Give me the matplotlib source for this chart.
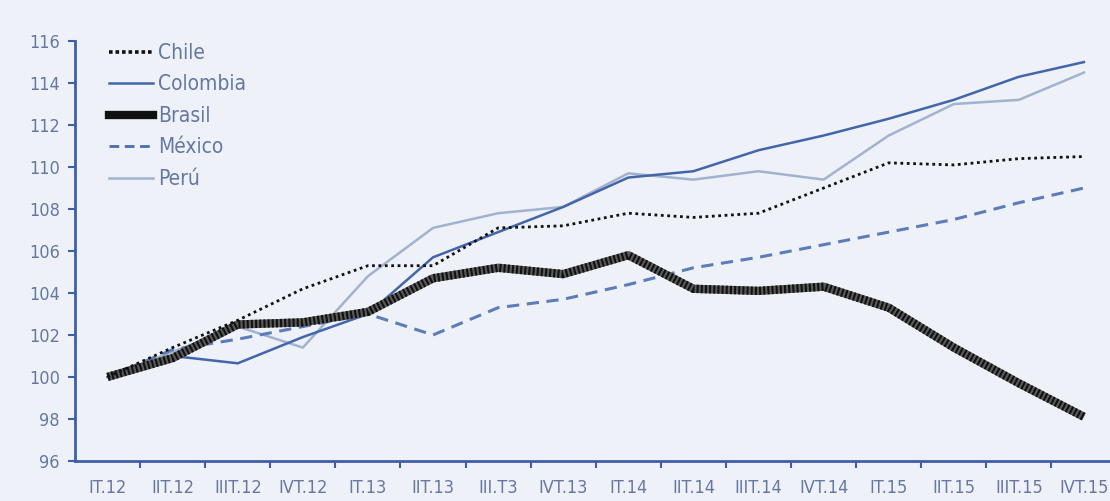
import numpy as np
import matplotlib.pyplot as plt
from matplotlib.lines import Line2D

# Trimestres
trimestres = ['IT.12', 'IIT.12', 'IIIT.12', 'IVT.12', 'IT.13', 'IIT.13', 'III.T3', 'IVT.13',
              'IT.14', 'IIT.14', 'IIIT.14', 'IVT.14', 'IT.15', 'IIT.15', 'IIIT.15', 'IVT.15']

# Índices (IT.12 = 100)
chile    = [100.0, 101.4, 102.7, 104.2, 105.3, 105.3, 107.1, 107.2, 107.8, 107.6, 107.8, 109.0, 110.2, 110.1, 110.4, 110.5]
colombia = [100.0, 101.0, 100.65, 101.9, 103.0, 105.7, 106.9, 108.1, 109.5, 109.8, 110.8, 111.5, 112.3, 113.2, 114.3, 115.0]
brasil   = [100.0, 100.9, 102.5, 102.6, 103.1, 104.7, 105.2, 104.9, 105.8, 104.2, 104.1, 104.3, 103.3, 101.4, 99.7, 98.1]
mexico   = [100.0, 101.3, 101.8, 102.4, 103.0, 102.0, 103.3, 103.7, 104.4, 105.2, 105.7, 106.3, 106.9, 107.5, 108.3, 109.0]
peru     = [100.0, 101.2, 102.4, 101.4, 104.8, 107.1, 107.8, 108.1, 109.7, 109.4, 109.8, 109.4, 111.5, 113.0, 113.2, 114.5]

fondo = '#eef2f8'
azul_eje = '#3e5fa6'
texto = '#6677a0'

plt.rcParams['font.family'] = ['DejaVu Sans']
plt.rcParams['font.stretch'] = 'condensed'

fig = plt.figure(figsize=(11.1, 5.01), dpi=100, facecolor=fondo)
ax = fig.add_axes([0.0676, 0.08, 0.9324, 0.838], facecolor=fondo)

x = np.arange(len(trimestres))

ax.plot(x, colombia, color='#4366ab', lw=1.8, zorder=3)
ax.plot(x, peru, color='#a3b2cf', lw=1.8, zorder=2)
ax.plot(x, mexico, color='#5c7db8', lw=2.2, ls=(0, (4, 2.5)), zorder=3)
# Brasil: trazo grueso con rayado
ax.plot(x, brasil, color='#5a5a5a', lw=6, solid_capstyle='butt', zorder=4)
ax.plot(x, brasil, color='#111111', lw=6, ls=(0, (0.25, 0.25)), zorder=5)
ax.plot(x, chile, color='#111111', lw=2.0, ls=(0, (1, 1.3)), zorder=6)

# Entradas de la leyenda
handles = [
    Line2D([], [], color='#111111', lw=2.6, ls=(0, (1, 0.8))),
    Line2D([], [], color='#4366ab', lw=1.8),
    Line2D([], [], color='#111111', lw=6),
    Line2D([], [], color='#4a6db0', lw=2.0, ls=(0, (3.5, 2))),
    Line2D([], [], color='#a3b2cf', lw=1.8),
]
ax.legend(handles, ['Chile', 'Colombia', 'Brasil', 'México', 'Perú'],
          loc='upper left', bbox_to_anchor=(0.015, 1.04), frameon=False,
          fontsize=15, handlelength=2.1, handletextpad=0.25, labelspacing=0.55,
          labelcolor=texto)

ax.set_xlim(-0.5, 15.4)
ax.set_ylim(96, 116)
ax.set_yticks(np.arange(96, 117, 2))
ax.set_xticks(x)
ax.set_xticklabels(trimestres)
ax.set_xticks(np.arange(0.5, 15, 1), minor=True)

ax.tick_params(axis='x', which='major', length=0, pad=13, labelsize=13, labelcolor=texto)
ax.tick_params(axis='x', which='minor', length=5, width=1.5, color=azul_eje, direction='out')
ax.tick_params(axis='y', length=5, width=1.5, color=azul_eje, pad=6, labelsize=13, labelcolor=texto)

for lado in ['top', 'right']:
    ax.spines[lado].set_visible(False)
for lado in ['left', 'bottom']:
    ax.spines[lado].set_color(azul_eje)
    ax.spines[lado].set_linewidth(2)

fig.savefig('out.png', dpi=100, facecolor=fondo)
